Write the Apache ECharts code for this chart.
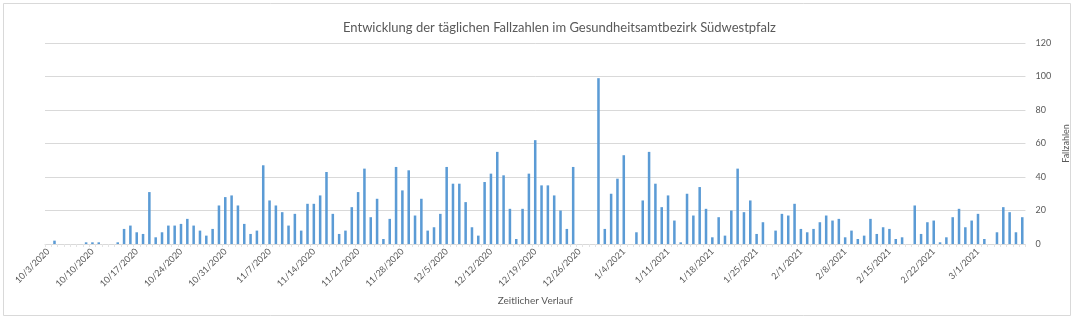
<!DOCTYPE html>
<html>
<head>
<meta charset="utf-8">
<script src="https://cdn.jsdelivr.net/npm/echarts@6/dist/echarts.min.js"></script>
<style>
html,body{margin:0;padding:0;background:#fff;}
#chart{width:1079px;height:322px;}
</style>
</head>
<body>
<div id="chart"></div>
<script>
const titleText = 'Entwicklung der täglichen Fallzahlen im Gesundheitsamtbezirk Südwestpfalz';
const xAxisName = 'Zeitlicher Verlauf';
const yAxisName = 'Fallzahlen';

const categories = [
'10/3/2020','10/4/2020','10/5/2020','10/6/2020','10/7/2020','10/8/2020','10/9/2020','10/10/2020','10/11/2020','10/12/2020',
'10/13/2020','10/14/2020','10/15/2020','10/16/2020','10/17/2020','10/18/2020','10/19/2020','10/20/2020','10/21/2020','10/22/2020',
'10/23/2020','10/24/2020','10/25/2020','10/26/2020','10/27/2020','10/28/2020','10/29/2020','10/30/2020','10/31/2020',
'11/1/2020','11/2/2020','11/3/2020','11/4/2020','11/5/2020','11/6/2020','11/7/2020','11/8/2020','11/9/2020','11/10/2020',
'11/11/2020','11/12/2020','11/13/2020','11/14/2020','11/15/2020','11/16/2020','11/17/2020','11/18/2020','11/19/2020','11/20/2020',
'11/21/2020','11/22/2020','11/23/2020','11/24/2020','11/25/2020','11/26/2020','11/27/2020','11/28/2020','11/29/2020','11/30/2020',
'12/1/2020','12/2/2020','12/3/2020','12/4/2020','12/5/2020','12/6/2020','12/7/2020','12/8/2020','12/9/2020','12/10/2020',
'12/11/2020','12/12/2020','12/13/2020','12/14/2020','12/15/2020','12/16/2020','12/17/2020','12/18/2020','12/19/2020','12/20/2020',
'12/21/2020','12/22/2020','12/23/2020','12/24/2020','12/25/2020','12/26/2020',
'12/27/2020','12/28/2020','12/29/2020','12/30/2020','1/2/2021','1/3/2021',
'1/4/2021','1/5/2021','1/6/2021','1/7/2021','1/8/2021','1/9/2021','1/10/2021','1/11/2021','1/12/2021','1/13/2021',
'1/14/2021','1/15/2021','1/16/2021','1/17/2021','1/18/2021','1/19/2021','1/20/2021','1/21/2021','1/22/2021','1/23/2021',
'1/24/2021','1/25/2021','1/26/2021','1/27/2021','1/28/2021','1/29/2021','1/30/2021','1/31/2021',
'2/1/2021','2/2/2021','2/3/2021','2/4/2021','2/5/2021','2/6/2021','2/7/2021','2/8/2021','2/9/2021','2/10/2021',
'2/11/2021','2/12/2021','2/13/2021','2/14/2021','2/15/2021','2/16/2021','2/17/2021','2/18/2021','2/19/2021','2/20/2021',
'2/21/2021','2/22/2021','2/23/2021','2/24/2021','2/25/2021','2/26/2021','2/27/2021','2/28/2021',
'3/1/2021','3/2/2021','3/3/2021','3/4/2021','3/5/2021','3/6/2021','3/7/2021','3/8/2021'
];

const dailyCases = [
0,2,0,0,0,0,1,1,1,0,
0,1,9,11,7,6,31,4,7,11,
11,12,15,11,8,5,9,23,28,
29,23,12,6,8,47,26,23,19,11,
18,8,24,24,29,43,18,6,8,22,
31,45,16,27,3,15,46,32,44,17,
27,8,10,18,46,36,36,25,10,5,
37,42,55,41,21,3,21,42,62,35,
35,29,20,9,46,0,
0,0,99,9,30,39,
53,0,7,26,55,36,22,29,14,1,
30,17,34,21,4,16,5,20,45,19,
26,6,13,0,8,18,17,24,
9,7,9,13,17,14,15,4,8,3,
5,15,6,10,9,3,4,0,23,6,
13,14,1,4,16,21,10,14,
18,3,0,7,22,19,7,16
];

const yTicks = {min: 0, max: 120, interval: 20};
const labelEvery = 7;
const lastLabelIndex = 147;

const chart = echarts.init(document.getElementById('chart'), null, {renderer: 'canvas'});
const FONT = 'Lato, "Open Sans", sans-serif';
chart.setOption({
  animation: false,
  backgroundColor: '#ffffff',
  textStyle: {fontFamily: FONT},
  title: {
    text: titleText,
    left: 343,
    top: 21,
    padding: 0,
    textStyle: {fontFamily: FONT, fontSize: 13, fontWeight: 'normal', color: '#595959'}
  },
  graphic: [{
    type: 'rect',
    silent: true,
    shape: {x: 3.5, y: 3.5, width: 1067, height: 312},
    style: {fill: 'none', stroke: '#d9d9d9', lineWidth: 1}
  }],
  grid: {left: 45, right: 52, top: 43, bottom: 78, containLabel: false},
  xAxis: {
    type: 'category',
    data: categories,
    name: xAxisName,
    nameLocation: 'middle',
    nameGap: 47,
    nameTextStyle: {fontFamily: FONT, fontSize: 10, color: '#595959'},
    axisLine: {show: true, lineStyle: {color: '#d9d9d9', width: 1}},
    axisTick: {show: true, interval: 0, length: 3, lineStyle: {color: '#e3e3e3'}},
    axisLabel: {
      interval: function (i) { return i % labelEvery === 0 && i <= lastLabelIndex; },
      rotate: 45, fontSize: 9, color: '#595959', margin: 6, fontFamily: FONT
    }
  },
  yAxis: {
    type: 'value',
    position: 'right',
    min: yTicks.min,
    max: yTicks.max,
    interval: yTicks.interval,
    name: yAxisName,
    nameLocation: 'middle',
    nameRotate: 90,
    nameGap: 21,
    nameTextStyle: {fontFamily: FONT, fontSize: 9, color: '#595959'},
    axisLine: {show: false},
    axisTick: {show: false},
    splitLine: {lineStyle: {color: '#d9d9d9', width: 1}},
    axisLabel: {fontSize: 9, color: '#595959', margin: 10, fontFamily: FONT}
  },
  series: [{
    type: 'bar',
    data: dailyCases,
    barWidth: '40%',
    itemStyle: {color: '#5B9BD5'}
  }]
});
</script>
</body>
</html>
